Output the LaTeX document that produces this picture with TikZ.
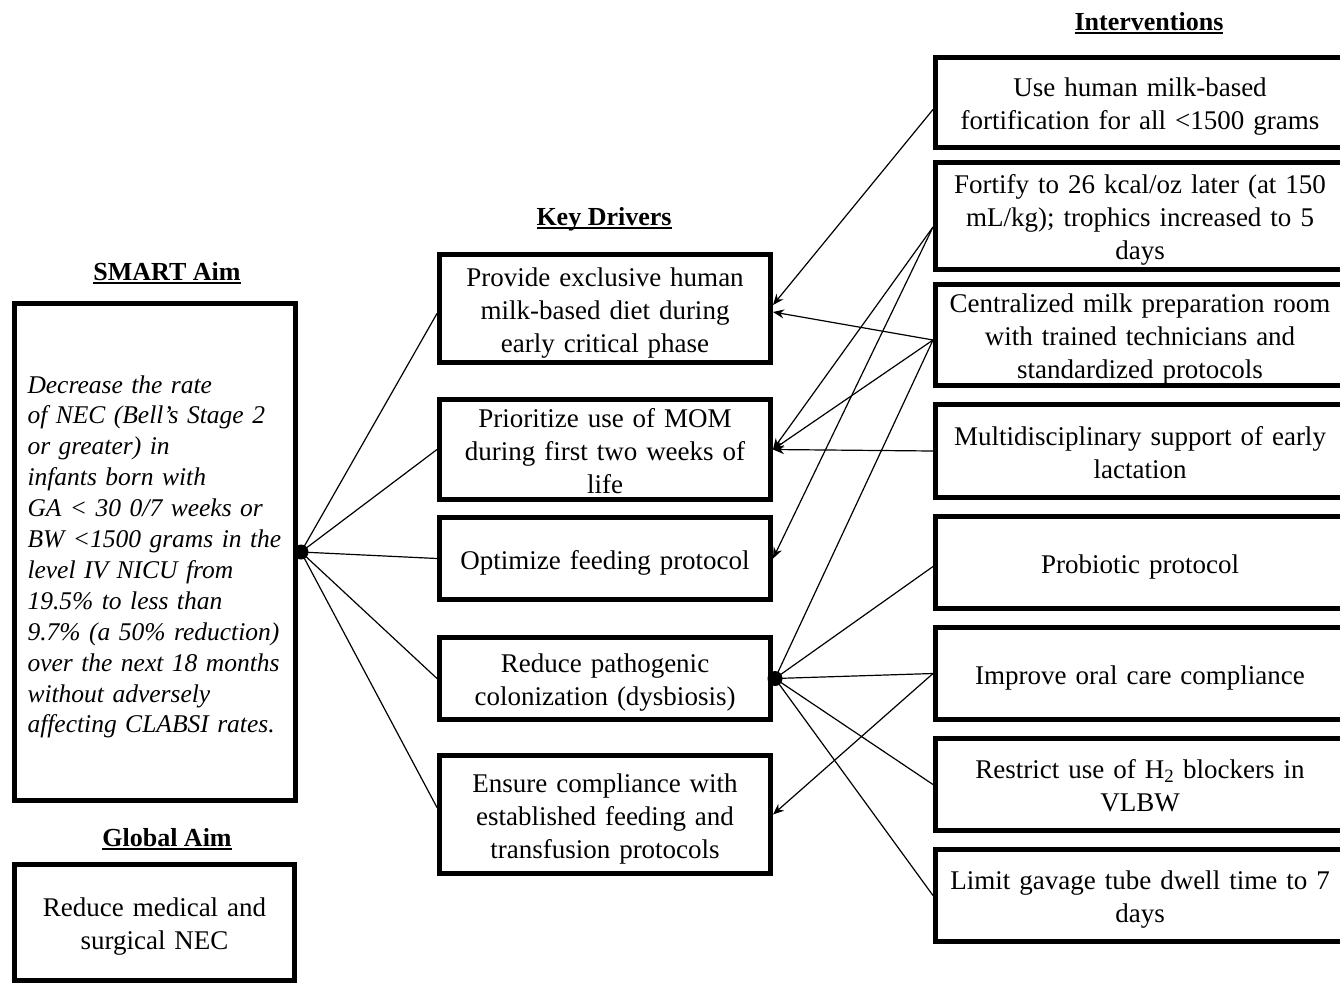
\documentclass[tikz,border=0pt]{standalone}
\usepackage{fontspec}
\setmainfont{Liberation Serif}
\usetikzlibrary{arrows.meta}

% heading underline: a rule the width of the text, a little below the baseline
\newcommand\hdul[1]{\setbox0\hbox{#1}\rlap{\rule[-3.5pt]{\wd0}{1.8pt}}\box0}
\newcommand\bodyfont{\fontsize{27}{33}\selectfont}
\newcommand\aimfont{\fontsize{25.5}{30.9}\selectfont\itshape}

\begin{document}
\begin{tikzpicture}[x=1pt,y=-1pt,
  box/.style={draw, line width=5pt, inner sep=0pt, align=center, font=\bodyfont,
    text width=#1,
    execute at begin node={\rule{0pt}{27pt}},
    execute at end node={\rule[-6pt]{0pt}{6pt}}},
  heading/.style={font=\bfseries\fontsize{26}{30}\selectfont, inner sep=0pt},
  dot/.style={circle, fill, inner sep=0pt, minimum size=15pt},
  link/.style={line width=1.2pt},
  arr/.style={line width=1.2pt, -{Stealth[length=11pt,width=9pt]}}]

\useasboundingbox (0,0) rectangle (1340,983);
\clip (0,0) rectangle (1340,983);

% column headings
\node[heading] (hsmart) at (167,273) {\hdul{SMART Aim}};
\node[heading] (hglobal) at (167,839) {\hdul{Global Aim}};
\node[heading] (hkey) at (604,219) {\hdul{Key Drivers}};
\node[heading] (hint) at (1149,23) {\hdul{Interventions}};

% aims
\node[box=255pt, align=left, font=\aimfont, minimum width=281pt, minimum height=497pt,
  execute at begin node={\rule{0pt}{28pt}}] (smart) at (155,552)
  {Decrease the rate\\of NEC (Bell’s Stage 2\\or greater) in\\infants born with\\GA < 30 0/7 weeks or\\BW <1500 grams in the\\level IV NICU from\\19.5\% to less than\\9.7\% (a 50\% reduction)\\over the next 18 months\\without adversely\\affecting CLABSI rates.};
\node[box=270pt, minimum width=280pt, minimum height=116pt] (global) at (154.5,922.5)
  {Reduce medical and\\surgical NEC};

% key drivers
\node[box=320pt, minimum width=331pt, minimum height=108pt] (kd1) at (605,308.5)
  {Provide exclusive human\\milk-based diet during\\early critical phase};
\node[box=320pt, minimum width=331pt, minimum height=100pt] (kd2) at (605,449.5)
  {Prioritize use of MOM\\during first two weeks of\\life};
\node[box=320pt, minimum width=331pt, minimum height=82pt] (kd3) at (605,558.5)
  {Optimize feeding protocol};
\node[box=320pt, minimum width=331pt, minimum height=82pt] (kd4) at (605,678.5)
  {Reduce pathogenic\\colonization (dysbiosis)};
\node[box=320pt, minimum width=331pt, minimum height=118pt] (kd5) at (605,814.5)
  {Ensure compliance with\\established feeding and\\transfusion protocols};

% interventions
\node[box=400pt, minimum width=409pt, minimum height=90pt] (int1) at (1140,102.5)
  {Use human milk-based\\fortification for all <1500 grams};
\node[box=400pt, minimum width=409pt, minimum height=107pt] (int2) at (1140,216)
  {Fortify to 26 kcal/oz later (at 150\\mL/kg); trophics increased to 5\\days};
\node[box=400pt, minimum width=409pt, minimum height=101pt] (int3) at (1140,335)
  {Centralized milk preparation room\\with trained technicians and\\standardized protocols};
\node[box=400pt, minimum width=409pt, minimum height=93pt] (int4) at (1140,451)
  {Multidisciplinary support of early\\lactation};
\node[box=400pt, minimum width=409pt, minimum height=92pt] (int5) at (1140,562.5)
  {Probiotic protocol};
\node[box=400pt, minimum width=409pt, minimum height=92pt] (int6) at (1140,673.5)
  {Improve oral care compliance};
\node[box=400pt, minimum width=409pt, minimum height=92pt] (int7) at (1140,784.5)
  {Restrict use of H\textsubscript{2} blockers in\\VLBW};
\node[box=400pt, minimum width=409pt, minimum height=92pt] (int8) at (1140,895.5)
  {Limit gavage tube dwell time to 7\\days};

% junction dots
\node[dot] (smartdot) at ([xshift=3pt]smart.east) {};
\node[dot] (kd4dot) at ([xshift=2pt]kd4.east) {};

% aim to drivers
\draw[link] (smartdot.center) -- ([yshift=-5pt]kd1.west);
\draw[link] (smartdot.center) -- (kd2.west);
\draw[link] (smartdot.center) -- (kd3.west);
\draw[link] (smartdot.center) -- (kd4.west);
\draw[link] (smartdot.center) -- ([yshift=7pt]kd5.west);

% interventions to drivers
\draw[arr] ([yshift=-7pt]int1.west) -- ([yshift=3.5pt]kd1.east);
\draw[arr] ([yshift=-5pt]int3.west) -- ([yshift=-3.5pt]kd1.east);
\draw[arr] ([yshift=-11pt]int2.west) -- (kd2.east);
\draw[arr] ([yshift=-11pt]int2.west) -- (kd3.east);
\draw[arr] ([yshift=-5pt]int3.west) -- (kd2.east);
\draw[arr] (int4.west) -- (kd2.east);
\draw[link] ([yshift=-5pt]int3.west) -- (kd4dot.center);
\draw[link] ([yshift=-4pt]int5.west) -- (kd4dot.center);
\draw[link] (int6.west) -- (kd4dot.center);
\draw[arr] (int6.west) -- (kd5.east);
\draw[link] (int7.west) -- (kd4dot.center);
\draw[link] (int8.west) -- (kd4dot.center);

\end{tikzpicture}
\end{document}
